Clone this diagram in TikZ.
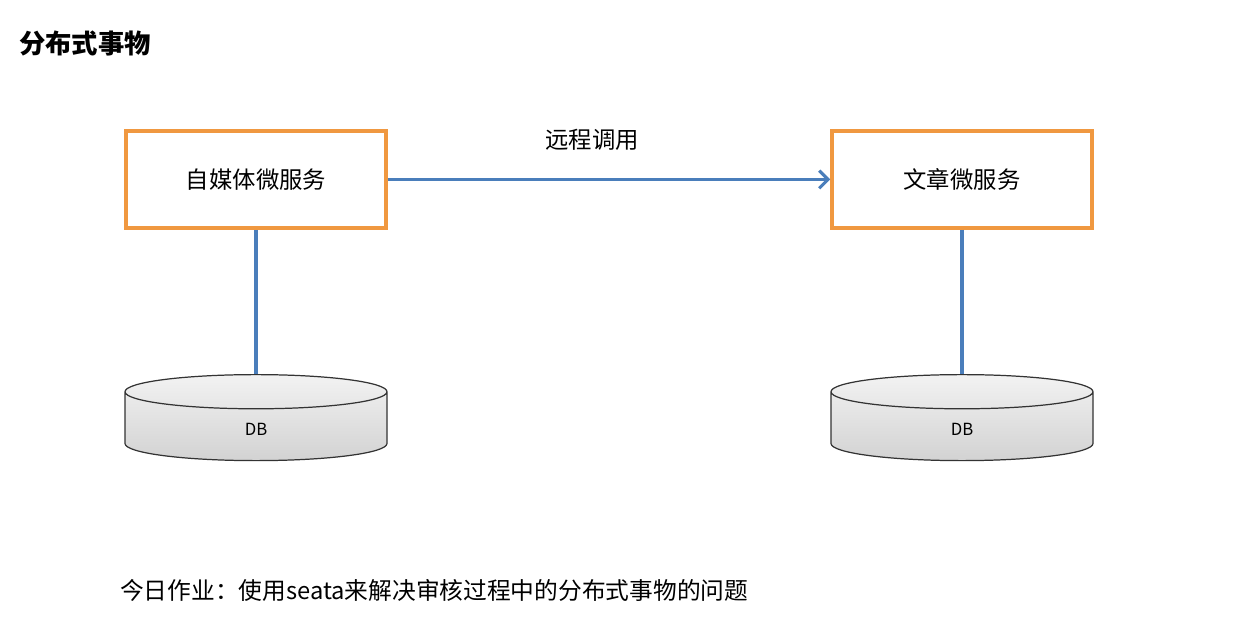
\documentclass[tikz,border=0pt]{standalone}
\usepackage{fontspec}
\setmainfont{Noto Sans CJK SC}
\usepackage{xcolor}
\definecolor{svcorange}{RGB}{240,152,64}
\definecolor{linkblue}{RGB}{74,126,187}
\usepackage{tikz}
\usetikzlibrary{
  arrows.meta,
  positioning,
  shapes.geometric
}
\tikzset{
  svcbox/.style={draw=svcorange, line width=2pt, fill=white,
    minimum width=5.2cm, minimum height=1.94cm,
    align=center, font=\fontsize{13.3pt}{16pt}\selectfont},
  dbcyl/.style={cylinder, shape border rotate=90, draw=black!80,
    line width=0.7pt, shape aspect=1.0,
    minimum width=5.24cm, minimum height=1.72cm,
    top color=gray!10, bottom color=gray!35,
    font=\fontsize{9.5pt}{11pt}\selectfont},
  link/.style={draw=linkblue, line width=1.8pt},
  arr/.style={link, -{Straight Barb[length=5pt, width=10pt]}},
}

\begin{document}
\begin{tikzpicture}
  \useasboundingbox (0,0) rectangle (24.84,12.38);

  % Title
  \node[anchor=west, font=\fontsize{15pt}{18pt}\selectfont\bfseries]
    (title) at (0.26,11.52) {分布式事物};

  % Services
  \node[svcbox] (media) at (5.12,8.79) {自媒体微服务};
  \node[svcbox] (article) at (19.24,8.79) {文章微服务};

  % Databases
  \node[dbcyl] (mediadb) at (5.12,3.80) {DB};
  \node[dbcyl] (articledb) at (19.24,3.80) {DB};

  \draw[link] (media.south) -- (mediadb.north);
  \draw[link] (article.south) -- (articledb.north);

  % Remote call
  \draw[arr] (media.east) -- (article.west);
  \node[font=\fontsize{13.3pt}{16pt}\selectfont] (call) at (11.84,9.58) {远程调用};

  % Homework
  \node[anchor=west, font=\fontsize{13.5pt}{16pt}\selectfont]
    (task) at (2.28,0.58) {今日作业：使用seata来解决审核过程中的分布式事物的问题};
\end{tikzpicture}
\end{document}
